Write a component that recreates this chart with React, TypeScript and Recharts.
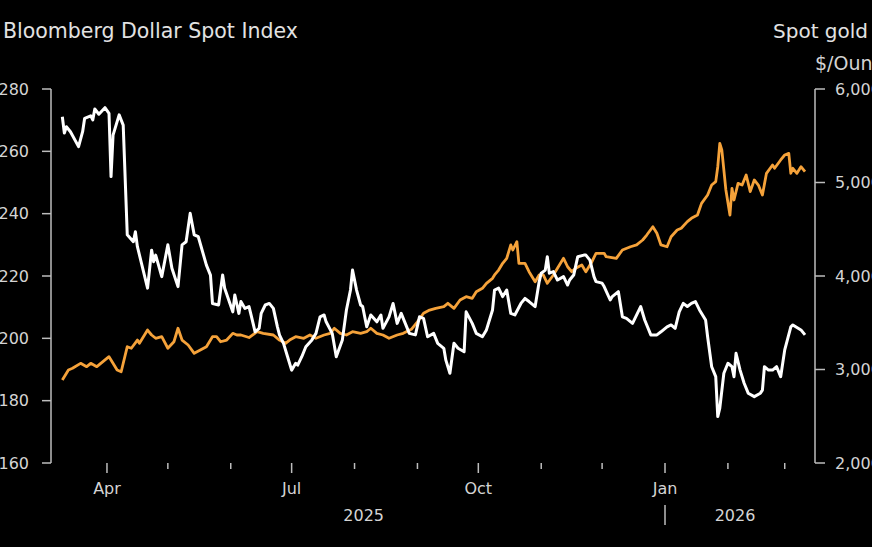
import React from 'react';
import { LineChart, Line, XAxis, YAxis } from 'recharts';

// Bloomberg Dollar Spot Index (left axis)
const dollarDates = [
  '2025-03-10', '2025-03-11', '2025-03-12', '2025-03-14', '2025-03-18', '2025-03-20', '2025-03-21', '2025-03-24', '2025-03-25', '2025-03-26', '2025-03-28', '2025-03-31',
  '2025-04-02', '2025-04-03', '2025-04-04', '2025-04-07', '2025-04-09', '2025-04-11', '2025-04-14', '2025-04-15', '2025-04-16', '2025-04-21', '2025-04-23', '2025-04-24', '2025-04-25', '2025-04-28',
  '2025-05-01', '2025-05-03', '2025-05-06', '2025-05-08', '2025-05-10', '2025-05-12', '2025-05-14', '2025-05-16', '2025-05-20', '2025-05-22', '2025-05-23', '2025-05-26', '2025-05-28', '2025-05-29',
  '2025-06-02', '2025-06-03', '2025-06-05', '2025-06-06', '2025-06-08', '2025-06-10', '2025-06-11', '2025-06-13', '2025-06-15', '2025-06-16', '2025-06-18', '2025-06-20', '2025-06-22', '2025-06-24', '2025-06-25', '2025-06-27', '2025-06-29',
  '2025-07-01', '2025-07-03', '2025-07-04', '2025-07-06', '2025-07-08', '2025-07-11', '2025-07-13', '2025-07-15', '2025-07-17', '2025-07-18', '2025-07-21', '2025-07-23', '2025-07-26', '2025-07-28', '2025-07-30', '2025-07-31',
  '2025-08-02', '2025-08-04', '2025-08-05', '2025-08-07', '2025-08-09', '2025-08-12', '2025-08-14', '2025-08-15', '2025-08-18', '2025-08-20', '2025-08-22', '2025-08-24', '2025-08-26', '2025-08-28', '2025-08-31',
  '2025-09-02', '2025-09-04', '2025-09-06', '2025-09-09', '2025-09-11', '2025-09-14', '2025-09-15', '2025-09-17', '2025-09-19', '2025-09-21', '2025-09-24', '2025-09-25', '2025-09-28', '2025-09-30',
  '2025-10-03', '2025-10-05', '2025-10-08', '2025-10-09', '2025-10-11', '2025-10-13', '2025-10-15', '2025-10-17', '2025-10-19', '2025-10-22', '2025-10-24', '2025-10-26', '2025-10-29', '2025-10-31',
  '2025-11-01', '2025-11-03', '2025-11-04', '2025-11-05', '2025-11-07', '2025-11-09', '2025-11-12', '2025-11-14', '2025-11-15', '2025-11-17', '2025-11-19', '2025-11-22', '2025-11-23', '2025-11-25', '2025-11-27', '2025-11-28',
  '2025-12-01', '2025-12-02', '2025-12-05', '2025-12-06', '2025-12-09', '2025-12-11', '2025-12-13', '2025-12-16', '2025-12-20', '2025-12-22', '2025-12-25', '2025-12-28', '2025-12-30',
  '2026-01-02', '2026-01-04', '2026-01-06', '2026-01-08', '2026-01-10', '2026-01-12', '2026-01-14', '2026-01-16', '2026-01-18', '2026-01-21', '2026-01-22', '2026-01-24', '2026-01-26', '2026-01-27', '2026-01-28', '2026-01-30',
  '2026-02-01', '2026-02-03', '2026-02-04', '2026-02-05', '2026-02-07', '2026-02-09', '2026-02-11', '2026-02-14', '2026-02-17', '2026-02-18', '2026-02-19', '2026-02-21', '2026-02-23', '2026-02-25', '2026-02-27',
  '2026-03-01', '2026-03-04', '2026-03-05', '2026-03-09', '2026-03-11',
];
const dollarValues = [
  1271.1, 1265.9, 1267.9, 1266.3, 1261.5, 1266.3, 1270.6, 1271.4, 1270.1, 1273.6, 1271.9, 1274.0,
  1272.2, 1251.9, 1265.2, 1271.7, 1268.4, 1233.2, 1231.0, 1234.2, 1229.4, 1216.1, 1228.3, 1224.6, 1226.7, 1219.8,
  1230.0, 1222.5, 1216.6, 1230.0, 1231.0, 1240.1, 1233.2, 1232.6, 1223.5, 1220.3, 1211.2, 1210.7, 1220.3, 1216.1,
  1208.5, 1213.9, 1208.0, 1211.8, 1209.6, 1210.2, 1207.5, 1202.1, 1203.2, 1208.0, 1210.7, 1211.2, 1209.6, 1203.7, 1201.1, 1198.4, 1194.1,
  1189.8, 1192.0, 1191.4, 1194.1, 1197.3, 1199.5, 1201.6, 1206.9, 1207.5, 1205.3, 1201.6, 1194.1, 1199.5, 1209.1, 1215.5, 1221.9,
  1215.5, 1210.7, 1210.2, 1203.7, 1207.5, 1205.3, 1207.5, 1203.2, 1206.9, 1211.2, 1204.8, 1208.0, 1204.8, 1201.6, 1201.1,
  1206.9, 1206.4, 1200.5, 1201.6, 1198.4, 1196.8, 1193.0, 1188.8, 1198.4, 1196.8, 1195.7, 1208.5, 1204.8, 1201.6,
  1200.5, 1202.7, 1209.1, 1215.5, 1216.1, 1213.4, 1215.5, 1208.0, 1207.5, 1211.2, 1212.8, 1211.8, 1210.2, 1218.2,
  1220.9, 1221.9, 1226.2, 1220.9, 1221.4, 1218.7, 1219.8, 1217.1, 1218.7, 1220.3, 1226.2, 1226.7, 1226.7, 1225.1, 1219.8, 1218.2,
  1217.7, 1216.6, 1212.3, 1213.4, 1215.0, 1206.9, 1206.4, 1204.8, 1210.2, 1205.9, 1201.1, 1201.1, 1202.1,
  1203.7, 1204.3, 1203.2, 1208.5, 1211.2, 1210.2, 1211.2, 1211.8, 1209.1, 1205.9, 1200.5, 1190.9, 1187.7, 1174.9, 1177.6, 1188.8,
  1192.0, 1190.9, 1187.7, 1195.2, 1189.8, 1185.6, 1182.4, 1181.3, 1182.4, 1183.4, 1190.9, 1189.8, 1189.8, 1190.9, 1187.7,
  1196.3, 1203.7, 1204.3, 1202.7, 1201.1,
];

// Spot gold, $/ounce (right axis)
const goldDates = [
  '2025-03-10', '2025-03-13', '2025-03-15', '2025-03-19', '2025-03-22', '2025-03-24', '2025-03-27',
  '2025-04-02', '2025-04-03', '2025-04-06', '2025-04-08', '2025-04-11', '2025-04-13', '2025-04-16', '2025-04-17', '2025-04-21', '2025-04-23', '2025-04-25', '2025-04-28',
  '2025-05-01', '2025-05-04', '2025-05-06', '2025-05-08', '2025-05-11', '2025-05-14', '2025-05-17', '2025-05-20', '2025-05-23', '2025-05-25', '2025-05-27', '2025-05-30',
  '2025-06-02', '2025-06-04', '2025-06-06', '2025-06-10', '2025-06-14', '2025-06-17', '2025-06-22', '2025-06-25', '2025-06-28', '2025-06-30',
  '2025-07-03', '2025-07-07', '2025-07-10', '2025-07-13', '2025-07-17', '2025-07-20', '2025-07-22', '2025-07-25', '2025-07-28', '2025-07-31',
  '2025-08-04', '2025-08-07', '2025-08-09', '2025-08-12', '2025-08-15', '2025-08-18', '2025-08-22', '2025-08-25', '2025-08-29',
  '2025-09-01', '2025-09-04', '2025-09-07', '2025-09-10', '2025-09-14', '2025-09-16', '2025-09-19', '2025-09-22', '2025-09-25', '2025-09-28', '2025-09-30',
  '2025-10-03', '2025-10-05', '2025-10-08', '2025-10-09', '2025-10-11', '2025-10-13', '2025-10-15', '2025-10-17', '2025-10-18', '2025-10-20', '2025-10-21', '2025-10-24', '2025-10-26', '2025-10-29', '2025-10-31',
  '2025-11-02', '2025-11-04', '2025-11-07', '2025-11-09', '2025-11-12', '2025-11-14', '2025-11-16', '2025-11-18', '2025-11-21', '2025-11-23', '2025-11-26', '2025-11-28',
  '2025-12-02', '2025-12-03', '2025-12-08', '2025-12-11', '2025-12-15', '2025-12-18', '2025-12-21', '2025-12-23', '2025-12-26', '2025-12-28', '2025-12-30',
  '2026-01-02', '2026-01-04', '2026-01-07', '2026-01-09', '2026-01-12', '2026-01-14', '2026-01-17', '2026-01-19', '2026-01-22', '2026-01-24', '2026-01-26', '2026-01-27', '2026-01-28', '2026-01-29', '2026-01-31',
  '2026-02-02', '2026-02-03', '2026-02-04', '2026-02-06', '2026-02-08', '2026-02-10', '2026-02-12', '2026-02-14', '2026-02-16', '2026-02-18', '2026-02-20', '2026-02-23', '2026-02-24', '2026-02-27',
  '2026-03-01', '2026-03-03', '2026-03-04', '2026-03-05', '2026-03-07', '2026-03-09', '2026-03-11',
];
const goldValues = [
  2888, 2995, 3013, 3066, 3030, 3066, 3030,
  3137, 3102, 2995, 2976, 3244, 3227, 3315, 3280, 3422, 3369, 3334, 3351,
  3227, 3297, 3441, 3315, 3262, 3173, 3209, 3244, 3351, 3351, 3297, 3315,
  3387, 3369, 3369, 3342, 3404, 3387, 3369, 3315, 3280, 3315,
  3351, 3334, 3369, 3334, 3369, 3387, 3441, 3387, 3369, 3404,
  3387, 3404, 3441, 3387, 3369, 3334, 3369, 3387, 3430,
  3510, 3601, 3636, 3654, 3672, 3708, 3654, 3743, 3779, 3761, 3832,
  3868, 3922, 3975, 4011, 4064, 4136, 4189, 4332, 4278, 4367, 4136, 4136, 4046, 3939, 4011,
  4011, 3922, 4011, 4082, 4189, 4099, 4046, 4082, 4118, 4046, 4153, 4243,
  4243, 4206, 4189, 4278, 4313, 4332, 4385, 4438, 4527, 4457, 4332,
  4313, 4420, 4492, 4510, 4581, 4617, 4652, 4777, 4866, 4973, 5009, 5169, 5419, 5348, 4920,
  4652, 4938, 4813, 4991, 4973, 5080, 4902, 5027, 4973, 4866, 5098, 5187, 5152, 5241,
  5294, 5312, 5098, 5152, 5098, 5169, 5115,
];

const monthTicks = [
  '2025-04-01', '2025-05-01', '2025-06-01', '2025-07-01', '2025-08-01', '2025-09-01',
  '2025-10-01', '2025-11-01', '2025-12-01', '2026-01-01', '2026-02-01', '2026-03-01',
];
const quarterLabels = ['Apr', 'Jul', 'Oct', 'Jan'];
const yearLabels = ['2025', '2026'];
const dollarTicks = [1160, 1180, 1200, 1220, 1240, 1260, 1280];
const goldTicks = [2000, 3000, 4000, 5000, 6000];

const toTime = (d: string) => Date.parse(d);

const dollarData = dollarDates.map((d, i) => ({ t: toTime(d), v: dollarValues[i] }));
const goldData = goldDates.map((d, i) => ({ t: toTime(d), v: goldValues[i] }));

const monthTimes = monthTicks.map(toTime);
const quarterTimes = monthTimes.filter((_, i) => i % 3 === 0);
const yearBreak = toTime('2026-01-01');
const firstTime = dollarData[0].t;
const lastTime = dollarData[dollarData.length - 1].t;
const yearMids = [(firstTime + yearBreak) / 2, (yearBreak + lastTime) / 2];
const xTicks = [...monthTimes, ...yearMids].sort((a, b) => a - b);

const xDomain = [Date.UTC(2025, 2, 4, 10), Date.UTC(2026, 2, 15, 22)];

const FONT = 'DejaVu Sans, Verdana, sans-serif';
const AXIS = '#bdbdbd';
const LABEL = '#d4d4d4';

const fmt = (v: number) => v.toLocaleString('en-US');

function DateTick(props: any) {
  const { x, y, payload } = props;
  const t = payload.value as number;
  const yi = yearMids.indexOf(t);
  if (yi >= 0) {
    return (
      <text x={x} y={y + 58} textAnchor="middle" fill={LABEL} fontSize={16} fontFamily={FONT}>
        {yearLabels[yi]}
      </text>
    );
  }
  const qi = quarterTimes.indexOf(t);
  return (
    <g>
      <line x1={x} x2={x} y1={y} y2={y + (qi >= 0 ? 10 : 6)} stroke={AXIS} strokeWidth={1.5} />
      {qi >= 0 && (
        <text x={x} y={y + 31} textAnchor="middle" fill={LABEL} fontSize={16} fontFamily={FONT}>
          {quarterLabels[qi]}
        </text>
      )}
      {t === yearBreak && <line x1={x} x2={x} y1={y + 42} y2={y + 62} stroke={AXIS} strokeWidth={1.5} />}
    </g>
  );
}

export default function App() {
  return (
    <div
      style={{
        position: 'absolute',
        left: 0,
        top: 0,
        width: 872,
        height: 547,
        overflow: 'hidden',
        background: '#000',
      }}
    >
      <LineChart width={872} height={547} margin={{ top: 89, right: 0, bottom: 14, left: 0 }}>
        <XAxis
          dataKey="t"
          type="number"
          domain={xDomain}
          allowDataOverflow
          ticks={xTicks}
          interval={0}
          height={70}
          axisLine={false}
          tickLine={false}
          tickSize={0}
          tickMargin={0}
          tick={<DateTick />}
        />
        <YAxis
          yAxisId="left"
          orientation="left"
          width={51}
          domain={[1160, 1280]}
          ticks={dollarTicks}
          tickFormatter={fmt}
          tickSize={9}
          tickMargin={13}
          axisLine={{ stroke: AXIS, strokeWidth: 1.5 }}
          tickLine={{ stroke: AXIS, strokeWidth: 1.5 }}
          tick={{ fill: LABEL, fontSize: 16, fontFamily: FONT }}
        />
        <YAxis
          yAxisId="right"
          orientation="right"
          width={57}
          domain={[2000, 6000]}
          ticks={goldTicks}
          tickFormatter={fmt}
          tickSize={10}
          tickMargin={10}
          axisLine={{ stroke: AXIS, strokeWidth: 1.5 }}
          tickLine={{ stroke: AXIS, strokeWidth: 1.5 }}
          tick={{ fill: LABEL, fontSize: 16, fontFamily: FONT, textAnchor: 'start' }}
        />
        <Line
          yAxisId="right"
          data={goldData}
          dataKey="v"
          stroke="#f5a23a"
          strokeWidth={2.8}
          dot={false}
          strokeLinejoin="round"
          isAnimationActive={false}
        />
        <Line
          yAxisId="left"
          data={dollarData}
          dataKey="v"
          stroke="#ffffff"
          strokeWidth={3}
          dot={false}
          strokeLinejoin="round"
          isAnimationActive={false}
        />
      </LineChart>
      <svg
        width={872}
        height={547}
        style={{ position: 'absolute', left: 0, top: 0, pointerEvents: 'none' }}
      >
        <text x={3} y={38} fill="#e2e2e2" fontSize={20.5} fontFamily={FONT}>
          Bloomberg Dollar Spot Index
        </text>
        <text x={773} y={38} fill="#e2e2e2" fontSize={20} fontFamily={FONT}>
          Spot gold
        </text>
        <text x={815} y={69.5} fill={LABEL} fontSize={19} fontFamily={FONT}>
          $/Ounce
        </text>
      </svg>
    </div>
  );
}
